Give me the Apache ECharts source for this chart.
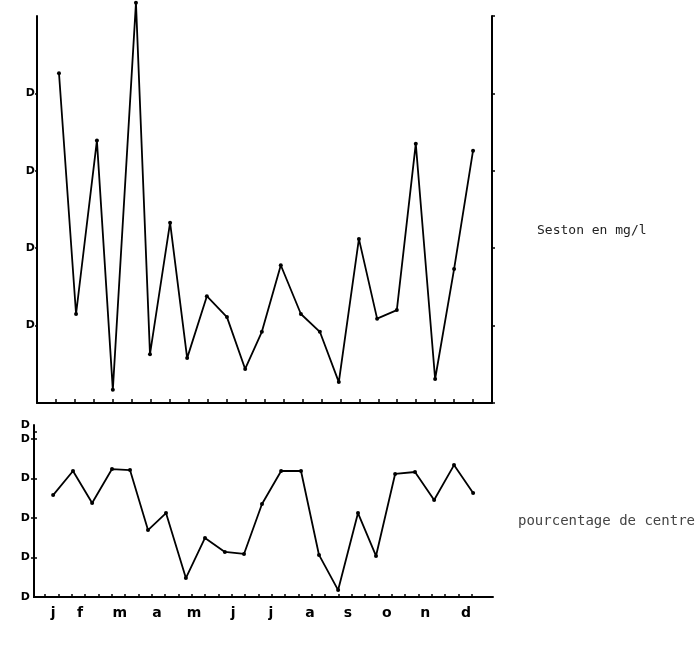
<!DOCTYPE html>
<html>
<head>
<meta charset="utf-8">
<script src="https://cdn.jsdelivr.net/npm/echarts@6/dist/echarts.min.js"></script>
<style>html,body{margin:0;padding:0;background:#fff}#c{width:700px;height:649px}</style>
</head>
<body>
<div id="c"></div>
<script>
// ---- data ----
var months = ['j','f','m','a','m','j','j','a','s','o','n','d'];
var monthLabelPos = [0.51, 1.23, 2.29, 3.28, 4.27, 5.31, 6.32, 7.36, 8.37, 9.41, 10.43, 11.52];
var yTickLabel = 'D';

// Seston (top panel), x in months from 1 January
var sestonX = [0.58, 1.03, 1.58, 2.0, 2.61, 2.98, 3.51, 3.96, 4.48, 5.01, 5.49, 5.93, 6.43, 6.96, 7.46, 7.96, 8.49, 8.97, 9.49, 9.99, 10.5, 11.0, 11.5];
var sestonY = [4.26, 1.15, 3.39, 0.17, 5.17, 0.63, 2.33, 0.58, 1.38, 1.11, 0.44, 0.92, 1.78, 1.15, 0.92, 0.27, 2.12, 1.09, 1.20, 3.35, 0.31, 1.73, 3.26];

// pourcentage de centre (bottom panel)
var centreX = [0.51, 1.04, 1.55, 2.08, 2.56, 3.04, 3.52, 4.05, 4.56, 5.09, 5.6, 6.08, 6.59, 7.12, 7.6, 8.11, 8.64, 9.12, 9.63, 10.16, 10.67, 11.2, 11.71];
var centreY = [51.6, 63.8, 47.6, 64.8, 64.3, 33.9, 42.5, 9.6, 29.9, 22.8, 21.8, 47.1, 63.8, 63.8, 21.3, 3.5, 42.5, 20.8, 62.3, 63.3, 49.1, 66.8, 52.7];

// ---- build ----
function pairs(xs, ys){ var o=[]; for (var i=0;i<xs.length;i++) o.push([xs[i], ys[i]]); return o; }
var bottomTicks = []; for (var k=0;k<33;k++) bottomTicks.push(+(0.293 + k*0.3557).toFixed(3));

var axisLine = {show:true, lineStyle:{color:'#000', width:2}};
var labelFont = {color:'#000', fontFamily:'DejaVu Sans', fontWeight:'bold', fontSize:11};

var chart = echarts.init(document.getElementById('c'), null, {renderer:'canvas'});
chart.setOption({
  animation:false,
  backgroundColor:'#fff',
  title:[
    {text:'Seston en mg/l', left:537, top:224, padding:0,
     textStyle:{fontFamily:'DejaVu Sans Mono', fontSize:13, fontWeight:'normal', color:'#222'}},
    {text:'pourcentage de centre', left:518, top:514, padding:0,
     textStyle:{fontFamily:'DejaVu Sans Mono', fontSize:14, fontWeight:'normal', color:'#444'}}
  ],
  grid:[
    {left:37, right:208, top:16, height:387},
    {left:34, right:207, top:425, height:172},
    {left:34, right:207, top:432, height:165}
  ],
  xAxis:[
    {gridIndex:0, type:'value', min:0, max:12, interval:0.5, axisLine:axisLine,
     axisTick:{show:true, inside:true, length:4, lineStyle:{color:'#000', width:1.5}},
     axisLabel:{show:false}, splitLine:{show:false}},
    {gridIndex:1, type:'value', min:0, max:12.24, axisLine:axisLine,
     axisTick:{show:true, inside:true, length:3, customValues:bottomTicks, lineStyle:{color:'#000', width:1.5}},
     axisLabel:{show:true, customValues:monthLabelPos, margin:9,
       color:'#000', fontFamily:'DejaVu Sans', fontWeight:'bold', fontSize:14,
       formatter:function(v){ for (var i=0;i<monthLabelPos.length;i++){ if (Math.abs(monthLabelPos[i]-v)<1e-6) return months[i]; } return ''; }},
     splitLine:{show:false}},
    {gridIndex:2, type:'value', min:0, max:12.24, show:false}
  ],
  yAxis:[
    {gridIndex:0, type:'value', position:'left', min:0, max:5, interval:1, axisLine:axisLine,
     axisTick:{show:true, length:2, customValues:[1,2,3,4], lineStyle:{color:'#000', width:1.5}},
     axisLabel:Object.assign({show:true, margin:2, customValues:[1,2,3,4], formatter:function(){return yTickLabel;}}, labelFont),
     splitLine:{show:false}},
    {gridIndex:0, type:'value', position:'right', min:0, max:5, interval:1, axisLine:axisLine,
     axisTick:{show:true, length:3, lineStyle:{color:'#000', width:1.5}},
     axisLabel:{show:false}, splitLine:{show:false}},
    {gridIndex:1, type:'value', position:'left', min:0, max:87.1, axisLine:axisLine,
     axisTick:{show:true, length:3, customValues:[20,40,60,80], lineStyle:{color:'#000', width:1.5}},
     axisLabel:Object.assign({show:true, margin:4, customValues:[0,20,40,60,80,87.1], formatter:function(){return yTickLabel;}}, labelFont),
     splitLine:{show:false}},
    {gridIndex:2, type:'value', position:'right', min:0, max:83.5, interval:20, axisLine:axisLine,
     axisTick:{show:true, length:3, lineStyle:{color:'#000', width:1.5}},
     axisLabel:{show:false}, splitLine:{show:false}}
  ],
  series:[
    {type:'line', xAxisIndex:0, yAxisIndex:0, data:pairs(sestonX, sestonY), clip:false,
     symbol:'circle', symbolSize:4, itemStyle:{color:'#000'}, lineStyle:{color:'#000', width:1.8}},
    {type:'line', xAxisIndex:1, yAxisIndex:2, data:pairs(centreX, centreY), clip:false,
     symbol:'circle', symbolSize:4, itemStyle:{color:'#000'}, lineStyle:{color:'#000', width:1.8}}
  ]
});
</script>
</body>
</html>
